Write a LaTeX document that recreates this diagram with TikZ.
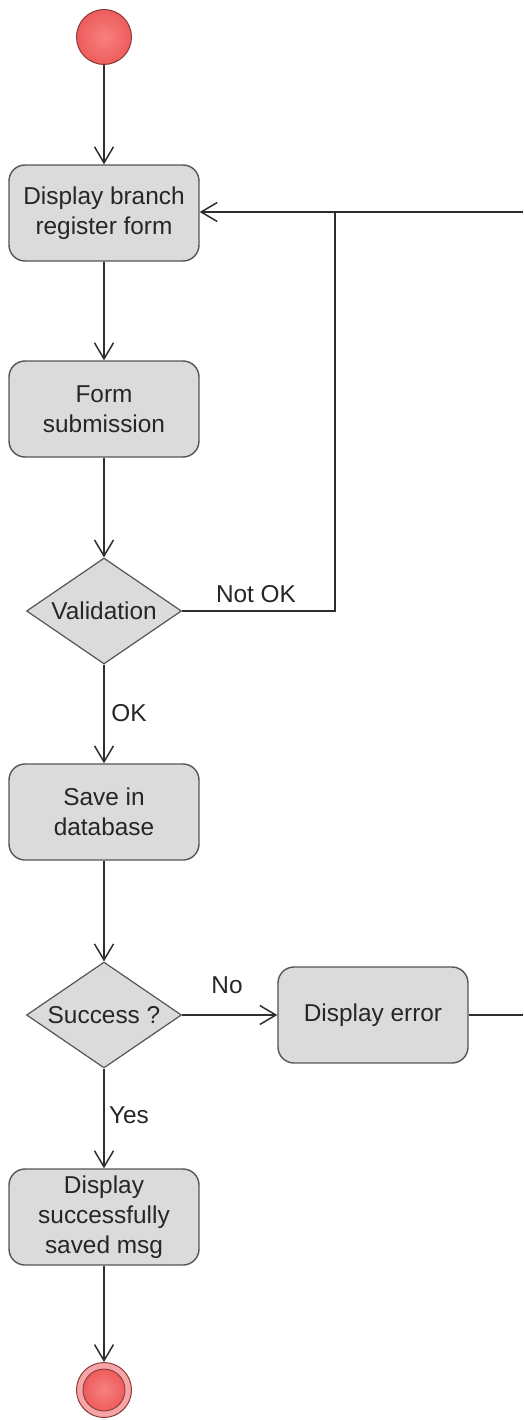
\documentclass[tikz,border=0pt]{standalone}
\usepackage{fontspec}
\setmainfont{Liberation Sans}
\usetikzlibrary{shapes.geometric,arrows.meta}
\definecolor{boxfill}{HTML}{DBDBDB}
\definecolor{boxline}{HTML}{555555}
\definecolor{flowline}{HTML}{2E2E2E}
\definecolor{txt}{HTML}{262626}
\definecolor{dotred}{HTML}{EE5C5C}
\definecolor{dotlight}{HTML}{F88080}
\definecolor{dotedge}{HTML}{8A3A3A}
\definecolor{ringpink}{HTML}{F5A5A5}
\begin{document}
\begin{tikzpicture}[x=1pt,y=-1pt,
  font=\fontsize{24.4}{30}\selectfont, text=txt,
  action/.style={draw=boxline, line width=1.4pt, fill=boxfill, rounded corners=16pt,
    minimum width=190pt, minimum height=96pt, inner sep=0pt, align=center},
  decision/.style={diamond, draw=boxline, line width=1.2pt, fill=boxfill,
    minimum width=155pt, minimum height=106pt, inner sep=0pt},
  startdot/.style={circle, draw=dotedge, line width=1pt, inner color=dotlight,
    outer color=dotred, minimum size=55pt, inner sep=0pt},
  enddot/.style={circle, draw=dotedge, line width=1pt, fill=ringpink,
    minimum size=55pt, inner sep=0pt},
  enddotcore/.style={circle, draw=dotedge, line width=0.9pt, inner color=dotlight,
    outer color=dotred, minimum size=42pt, inner sep=0pt},
  flow/.style={draw=flowline, line width=1.5pt,
    -{Straight Barb[length=16pt,width=19pt,line width=1.5pt]}},
  link/.style={draw=flowline, line width=1.5pt},
  guard/.style={inner sep=0pt, anchor=center}]
\useasboundingbox (0,0) rectangle (523,1420);

% nodes
\node[startdot] (start) at (104,37) {};
\node[action] (show) at (104,213) {Display branch\\register form};
\node[action] (submit) at (104,409) {Form\\submission};
\node[decision] (valid) at (104,611) {\makebox[0pt]{Validation}};
\node[action] (save) at (104,812) {Save in\\database};
\node[decision] (success) at (104,1015) {\makebox[0pt]{Success ?}};
\node[action] (err) at (373,1015) {Display error};
\node[action] (done) at (104,1217) {Display\\successfully\\saved msg};
\node[enddot] (stop) at (104,1390) {};
\node[enddotcore] (stopcore) at (104,1390) {};

% return path running along the right border
\coordinate (retbot) at (523,1015);
\coordinate (rettop) at (523,212);
\coordinate (join) at (335,611);

% connectors
\draw[flow] (start) -- (show);
\draw[flow] (show) -- (submit);
\draw[flow] (submit) -- (valid);
\draw[flow] (valid) -- (save);
\draw[flow] (save) -- (success);
\draw[flow] (success) -- (done);
\draw[flow] (success) -- (err);
\draw[flow] (done) -- (stop);
\draw[link] (err.east) -- (retbot);
\draw[flow] (rettop) -- (show.east |- rettop);
\draw[link] (valid.east) -- (join) -- (join |- rettop);

% guards
\node[guard] (gnotok) at (256,594) {Not OK};
\node[guard] (gok) at (129,713) {OK};
\node[guard] (gno) at (227,985) {No};
\node[guard] (gyes) at (129,1115) {Yes};
\end{tikzpicture}
\end{document}
